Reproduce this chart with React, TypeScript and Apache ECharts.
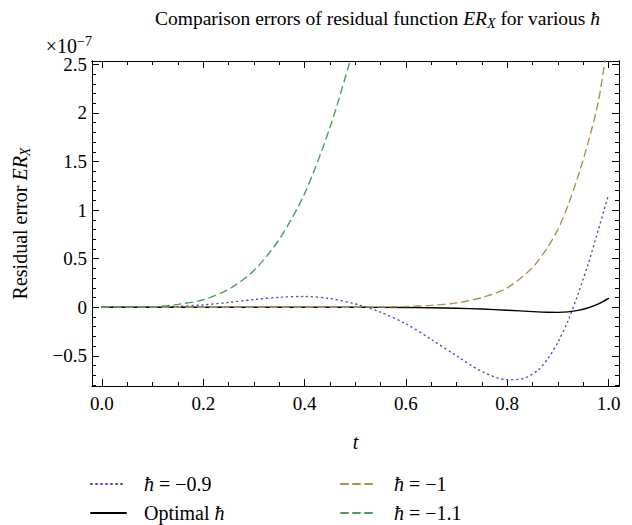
import React, { useEffect, useRef } from "react";
import * as echarts from "echarts";

// ---- data (values in units of 1e-7) ----
const xMajorTicks = [0, 0.2, 0.4, 0.6, 0.8, 1.0];
const xMinorTicks = [0.05, 0.1, 0.15, 0.25, 0.3, 0.35, 0.45, 0.5, 0.55, 0.65, 0.7, 0.75, 0.85, 0.9, 0.95];
const yMajorTicks = [-0.5, 0, 0.5, 1, 1.5, 2, 2.5];
const yMinorTicks = [-0.8, -0.7, -0.6, -0.4, -0.3, -0.2, -0.1, 0.1, 0.2, 0.3, 0.4, 0.6, 0.7, 0.8, 0.9, 1.1, 1.2, 1.3, 1.4, 1.6, 1.7, 1.8, 1.9, 2.1, 2.2, 2.3, 2.4];

const tBlue = [0, 0.05, 0.1, 0.15, 0.2, 0.25, 0.3, 0.35, 0.4, 0.45, 0.5, 0.55, 0.6, 0.65, 0.7, 0.75, 0.8, 0.83, 0.86, 0.88, 0.9, 0.92, 0.94, 0.96, 0.98, 1.0];
const vBlue = [0, 0, 0.002, 0.01, 0.025, 0.05, 0.08, 0.103, 0.112, 0.09, 0.035, -0.05, -0.17, -0.33, -0.5, -0.66, -0.745, -0.735, -0.65, -0.53, -0.36, -0.14, 0.14, 0.45, 0.8, 1.16];

const tBlack = [0, 0.5, 0.6, 0.65, 0.7, 0.75, 0.8, 0.85, 0.88, 0.9, 0.92, 0.94, 0.96, 0.98, 1.0];
const vBlack = [0, 0, -0.002, -0.005, -0.01, -0.018, -0.03, -0.044, -0.051, -0.052, -0.047, -0.032, -0.005, 0.035, 0.092];

const tOlive = [0, 0.4, 0.5, 0.55, 0.6, 0.65, 0.7, 0.75, 0.8, 0.85, 0.88, 0.9, 0.92, 0.94, 0.96, 0.98, 0.993];
const vOlive = [0, 0, 0.001, 0.003, 0.008, 0.02, 0.045, 0.1, 0.2, 0.41, 0.62, 0.8, 1.05, 1.35, 1.7, 2.12, 2.54];

const tGreen = [0, 0.05, 0.1, 0.15, 0.2, 0.25, 0.3, 0.35, 0.4, 0.45, 0.49];
const vGreen = [0, 0, 0.004, 0.03, 0.078, 0.185, 0.38, 0.7, 1.17, 1.85, 2.54];

const seriesNames = ["h09", "opt", "h1", "h11"];
const legendLabels: Record<string, string> = {
  h09: "{i|ħ}{a| = −0.9}",
  opt: "{a|Optimal }{i|ħ}",
  h1: "{i|ħ}{a| = −1}",
  h11: "{i|ħ}{a| = −1.1}",
};

const X_MIN = -0.0197;
const X_MAX = 1.0207;
const Y_MIN = -0.81;
const Y_MAX = 2.535;

const FONT = "'Liberation Serif', 'DejaVu Serif', serif";
const zip = (t: number[], v: number[]) => t.map((x, i) => [x, v[i]]);
const fmtNum = (v: number, digits?: number) => {
  const s = digits !== undefined ? Math.abs(v).toFixed(digits) : String(Math.abs(v));
  return v < 0 ? "−" + s : s;
};

export default function App() {
  const ref = useRef<HTMLDivElement>(null);
  useEffect(() => {
    document.body.style.margin = "0";
    const chart = echarts.init(ref.current!, null, { renderer: "svg" });
    const axisLine = { show: true, onZero: false, lineStyle: { color: "#000", width: 1 } };
    const xAxisBase = (position: string, ticks: number[], len: number, labels: boolean, extra: any = {}) => ({
      type: "value",
      position,
      min: X_MIN,
      max: X_MAX,
      axisLine,
      splitLine: { show: false },
      axisTick: { show: true, inside: true, length: len, customValues: ticks, lineStyle: { color: "#000", width: 1 } },
      axisLabel: labels
        ? { show: true, customValues: ticks, formatter: (v: number) => fmtNum(v, 1), fontFamily: FONT, fontSize: 19, color: "#000", margin: 8 }
        : { show: false },
      ...extra,
    });
    const yAxisBase = (position: string, ticks: number[], len: number, labels: boolean, extra: any = {}) => ({
      type: "value",
      position,
      min: Y_MIN,
      max: Y_MAX,
      axisLine,
      splitLine: { show: false },
      axisTick: { show: true, inside: true, length: len, customValues: ticks, lineStyle: { color: "#000", width: 1 } },
      axisLabel: labels
        ? { show: true, customValues: ticks, formatter: (v: number) => fmtNum(v), fontFamily: FONT, fontSize: 19, color: "#000", margin: 5 }
        : { show: false },
      ...extra,
    });
    const richBase = {
      a: { fontFamily: FONT, fontSize: 20, fontWeight: "normal", color: "#000", lineHeight: 24 },
      i: { fontFamily: FONT, fontSize: 20, fontWeight: "normal", fontStyle: "italic", color: "#000", lineHeight: 24 },
      s: { fontFamily: FONT, fontSize: 14, fontWeight: "normal", fontStyle: "italic", color: "#000", lineHeight: 14, padding: [10, 0, 0, 0] },
      sup: { fontFamily: FONT, fontSize: 14, fontWeight: "normal", color: "#000", lineHeight: 14, padding: [0, 0, 10, 0] },
    };
    const richTitle = {
      a: { fontFamily: FONT, fontSize: 19.5, fontWeight: "normal", color: "#000", lineHeight: 24 },
      i: { fontFamily: FONT, fontSize: 19.5, fontWeight: "normal", fontStyle: "italic", color: "#000", lineHeight: 24 },
      s: { fontFamily: FONT, fontSize: 14, fontWeight: "normal", fontStyle: "italic", color: "#000", lineHeight: 14, padding: [10, 0, 0, 0] },
    };
    const richLegend = {
      a: { fontFamily: FONT, fontSize: 20, color: "#000", lineHeight: 18 },
      i: { fontFamily: FONT, fontSize: 20, fontStyle: "italic", color: "#000", lineHeight: 18 },
    };
    const lineSeries = (name: string, data: number[][], color: string, type: any, width: number) => ({
      name,
      type: "line",
      data,
      symbol: "none",
      showSymbol: false,
      smooth: 0.3,
      clip: true,
      lineStyle: { color, type, width, cap: "round" },
      itemStyle: { color },
      xAxisIndex: 0,
      yAxisIndex: 0,
    });
    const legendBase = (data: string[], left: number) => ({
      data,
      orient: "vertical",
      left,
      top: 474,
      padding: 0,
      itemWidth: 35,
      itemHeight: 14,
      itemGap: 9,
      itemStyle: { opacity: 0 },
      formatter: (n: string) => legendLabels[n],
      textStyle: { rich: richLegend, padding: [0, 0, 0, 13] },
      selectedMode: false,
    });
    chart.setOption({
      animation: false,
      backgroundColor: "#fff",
      title: {
        text: "{a|Comparison errors of residual function }{i|ER}{s|X}{a| for various }{i|ħ}",
        left: 155,
        top: 6,
        padding: 0,
        textStyle: { fontWeight: "normal", rich: richTitle },
      },
      grid: { left: 91, right: 13, top: 61, bottom: 139, containLabel: false },
      xAxis: [
        xAxisBase("bottom", xMajorTicks, 7, true, {
          name: "t",
          nameLocation: "middle",
          nameGap: 46,
          nameTextStyle: { fontFamily: FONT, fontSize: 20, fontStyle: "italic", color: "#000" },
        }),
        xAxisBase("bottom", xMinorTicks, 4, false),
        xAxisBase("top", xMajorTicks, 7, false),
        xAxisBase("top", xMinorTicks, 4, false),
      ],
      yAxis: [
        yAxisBase("left", yMajorTicks, 7, true, {
          name: "{a|Residual error }{i|ER}{s|X}",
          nameLocation: "middle",
          nameGap: 60,
          nameTextStyle: { rich: richBase },
        }),
        yAxisBase("left", yMinorTicks, 4, false, {
          name: "{a|×10}{sup|−7}",
          nameLocation: "end",
          nameGap: 3,
          nameTextStyle: { rich: richBase, align: "right" },
        }),
        yAxisBase("right", yMajorTicks, 7, false),
        yAxisBase("right", yMinorTicks, 4, false),
      ],
      legend: [legendBase(["h09", "opt"], 90), legendBase(["h1", "h11"], 340)],
      series: [
        lineSeries(seriesNames[0], zip(tBlue, vBlue), "#4848c8", [1, 4], 1.4),
        lineSeries(seriesNames[1], zip(tBlack, vBlack), "#000000", "solid", 1.4),
        lineSeries(seriesNames[2], zip(tOlive, vOlive), "#a8944a", [7, 5], 1.4),
        lineSeries(seriesNames[3], zip(tGreen, vGreen), "#4b9e5e", [7, 5], 1.4),
      ],
    });
    return () => chart.dispose();
  }, []);
  return <div ref={ref} style={{ width: 632, height: 525 }} />;
}
